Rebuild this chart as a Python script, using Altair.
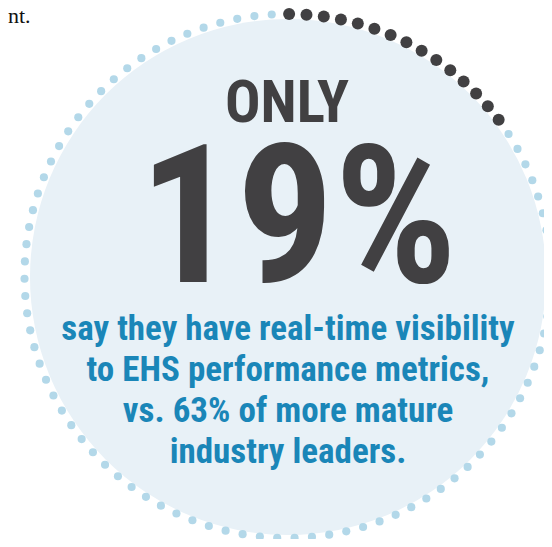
import altair as alt
import pandas as pd

# ---- data ----
share_pct = 19            # headline figure
leader_pct = 63           # comparison figure
dot_total = 95            # dots around the ring
dark_dots = 15            # dark dots (clockwise from the top)

headline_small = "ONLY"
headline_big = f"{share_pct}%"
body_lines = [
    "say they have real-time visibility",
    "to EHS performance metrics,",
    f"vs. {leader_pct}% of more mature",
    "industry leaders.",
]
corner_text = "nt."

# ---- layout (page pixel coordinates) ----
W, H = 536, 531
cx, cy = 287.5, 276
ring_rx, ring_ry = 263, 262
fill_cx, fill_cy, fill_r = 288, 277, 258
start_deg = 0.35

DARK = "#414042"
BLUE = "#1A86B8"
FILL = "#E8F1F7"
LIGHT = "#B3D8E9"
COND = "Roboto Condensed, Open Sans Condensed, sans-serif"

xs = alt.Scale(domain=[8, 8 + W], nice=False, zero=False)
ys = alt.Scale(domain=[8, 8 + H], nice=False, zero=False, reverse=True)

# background disc (Vega circle: diameter = sqrt(size))
disc = alt.Chart(pd.DataFrame({"x": [fill_cx], "y": [fill_cy]})).mark_circle(
    color=FILL, opacity=1, size=(2 * fill_r) ** 2
).encode(x=alt.X("x:Q", scale=xs, axis=None), y=alt.Y("y:Q", scale=ys, axis=None))

# dotted ring
dots_df = pd.DataFrame({"i": list(range(dot_total))})
dots = alt.Chart(dots_df).transform_calculate(
    ang=f"2*PI*((datum.i/{dot_total}) + {start_deg}/360)",
    x=f"{cx} + {ring_rx}*sin(datum.ang)",
    y=f"{cy} - {ring_ry}*cos(datum.ang)",
    dark=f"datum.i < {dark_dots}",
).mark_circle(opacity=1).encode(
    x=alt.X("x:Q", scale=xs, axis=None),
    y=alt.Y("y:Q", scale=ys, axis=None),
    color=alt.condition("datum.dark", alt.value(DARK), alt.value(LIGHT)),
    size=alt.condition("datum.dark", alt.value(144), alt.value(66)),
)

def text_layer(df, font, size, color, weight="bold", align="center"):
    return alt.Chart(df).mark_text(
        font=font, fontSize=size, color=color, fontWeight=weight,
        align=align, baseline="alphabetic"
    ).encode(
        x=alt.X("x:Q", scale=xs, axis=None),
        y=alt.Y("y:Q", scale=ys, axis=None),
        text="t:N",
    )

only_t = text_layer(pd.DataFrame({"x": [287], "y": [122], "t": [headline_small]}), COND, 59, DARK)
big_t = text_layer(pd.DataFrame({"x": [298], "y": [282], "t": [headline_big]}), COND, 193, DARK)
body_t = text_layer(
    pd.DataFrame({"x": [288] * 4, "y": [340, 381, 422, 463], "t": body_lines}),
    COND, 35, BLUE,
)
corner_t = text_layer(pd.DataFrame({"x": [8], "y": [23], "t": [corner_text]}),
                      "Liberation Serif", 22, "#111111", weight="normal", align="left")

chart = alt.layer(disc, dots, only_t, big_t, body_t, corner_t).properties(
    width=W, height=H, padding=0, autosize=alt.AutoSizeParams(type="none")
).configure_view(stroke=None)

chart.save("out.html", embed_options={"renderer": "svg", "actions": False})
